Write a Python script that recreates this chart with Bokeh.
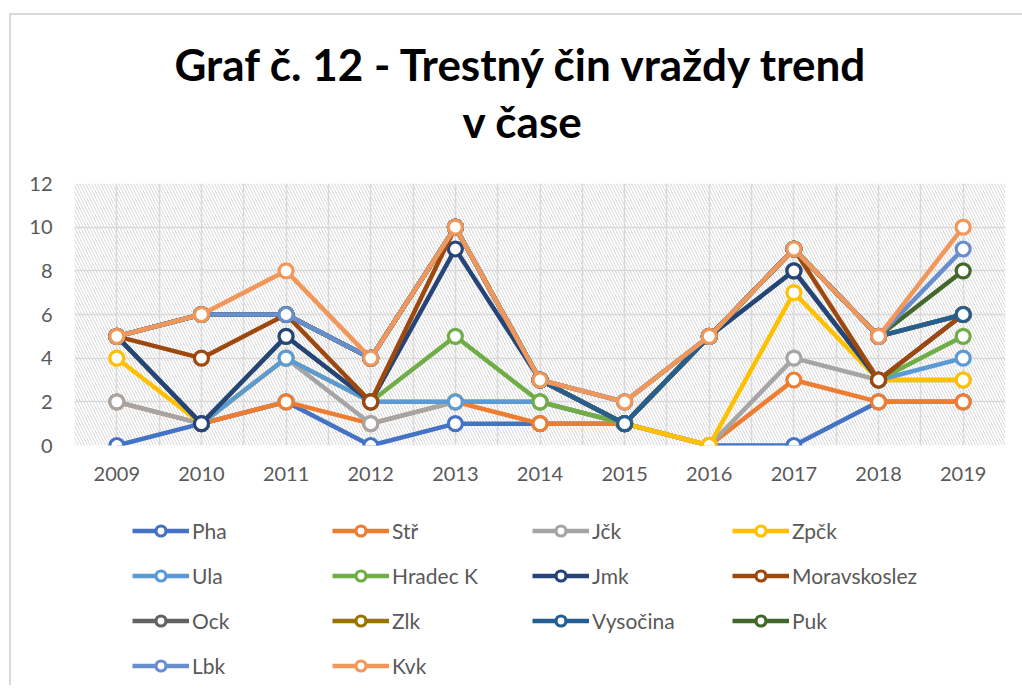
from bokeh.plotting import figure
from bokeh.layouts import column
from bokeh.models import Range1d, FixedTicker, Legend, LegendItem, Title, BoxAnnotation
from bokeh.embed import file_html
from bokeh.resources import INLINE

# ---- data (values as plotted: Excel stacked line chart, cumulative) ----
years = [2009, 2010, 2011, 2012, 2013, 2014, 2015, 2016, 2017, 2018, 2019]
year_labels = ["2009", "2010", "2011", "2012", "2013", "2014", "2015", "2016", "2017", "2018", "2019"]
series_names = ["Pha", "Stř", "Jčk", "Zpčk", "Ula", "Hradec K", "Jmk", "Moravskoslez",
                "Ock", "Zlk", "Vysočina", "Puk", "Lbk", "Kvk"]
pha = [0, 1, 2, 0, 1, 1, 1, 0, 0, 2, 2]
str_ = [2, 1, 2, 1, 2, 1, 1, 0, 3, 2, 2]
jck = [2, 1, 4, 1, 2, 2, 1, 0, 4, 3, 3]
zpck = [4, 1, 4, 2, 2, 2, 1, 0, 7, 3, 3]
ula = [5, 1, 4, 2, 2, 2, 1, 5, 8, 3, 4]
hradec = [5, 1, 5, 2, 5, 2, 1, 5, 8, 3, 5]
jmk = [5, 1, 5, 2, 9, 3, 1, 5, 8, 3, 6]
moravskoslez = [5, 4, 6, 2, 10, 3, 1, 5, 9, 3, 6]
ock = [5, 6, 6, 4, 10, 3, 1, 5, 9, 5, 6]
zlk = [5, 6, 6, 4, 10, 3, 1, 5, 9, 5, 6]
vysocina = [5, 6, 6, 4, 10, 3, 1, 5, 9, 5, 6]
puk = [5, 6, 6, 4, 10, 3, 2, 5, 9, 5, 8]
lbk = [5, 6, 6, 4, 10, 3, 2, 5, 9, 5, 9]
kvk = [5, 6, 8, 4, 10, 3, 2, 5, 9, 5, 10]
y_ticks = [0, 2, 4, 6, 8, 10, 12]

series_values = [pha, str_, jck, zpck, ula, hradec, jmk, moravskoslez,
                 ock, zlk, vysocina, puk, lbk, kvk]
colors = ["#4472C4", "#ED7D31", "#A5A5A5", "#FFC000", "#5B9BD5", "#70AD47",
          "#264478", "#9E480E", "#636363", "#997300", "#255E91", "#43682B",
          "#698ED0", "#F1975A"]

FONT = "Lato"
GREY = "#595959"
W = 1011

p = figure(width=W, height=480,
           x_range=Range1d(years[0] - 0.5, years[-1] + 0.5),
           y_range=Range1d(y_ticks[0], y_ticks[-1]),
           output_backend="svg", toolbar_location=None,
           min_border_left=63, min_border_right=17,
           min_border_top=168, min_border_bottom=50,
           background_fill_color="white", border_fill_color="white",
           outline_line_color=None)
p.title = None

# hatched plot area
p.add_layout(BoxAnnotation(fill_alpha=0, line_color=None, hatch_pattern="\\",
                           hatch_color="#D8D8D8", hatch_scale=6, hatch_weight=1,
                           level="underlay"))

# grid
half_steps = [years[0] - 0.5 + 0.5 * i for i in range(2 * len(years) + 1)]
p.xgrid.ticker = FixedTicker(ticks=half_steps)
p.ygrid.ticker = FixedTicker(ticks=y_ticks)
for g in (p.xgrid, p.ygrid):
    g.grid_line_color = "#D9D9D9"
    g.grid_line_width = 1.5

# axes
p.xaxis.ticker = FixedTicker(ticks=years)
p.xaxis.major_label_overrides = {y: l for y, l in zip(years, year_labels)}
p.yaxis.ticker = FixedTicker(ticks=y_ticks)
for ax in (p.xaxis, p.yaxis):
    ax.axis_line_color = None
    ax.major_tick_line_color = None
    ax.minor_tick_line_color = None
    ax.major_tick_out = 0
    ax.major_label_text_font = FONT
    ax.major_label_text_font_size = "20px"
    ax.major_label_text_color = GREY
p.yaxis.major_label_standoff = 22
p.xaxis.major_label_standoff = 21

# series (drawn in order, later ones on top, as in the stacked Excel chart)
for vals, col in zip(series_values, colors):
    p.line(years, vals, line_color=col, line_width=4.5, line_join="round")
    p.scatter(years, vals, marker="circle", size=14, fill_color="white",
              line_color=col, line_width=3.2)

# titles (two lines) + spacer above the plot area
p.add_layout(Title(text=" ", text_font_size="10px", standoff=21), "above")
p.add_layout(Title(text="v čase", align="left", offset=388, standoff=6,
                   text_font=FONT, text_font_style="bold", text_font_size="44px",
                   text_color="black"), "above")
p.add_layout(Title(text="Graf č. 12 - Trestný čin vraždy trend", align="left", offset=100,
                   standoff=0, text_font=FONT, text_font_style="bold",
                   text_font_size="44px", text_color="black"), "above")

# legend in its own strip below the chart
lf = figure(width=W, height=190, x_range=Range1d(0, 1), y_range=Range1d(0, 1),
            x_axis_type=None, y_axis_type=None, output_backend="svg",
            toolbar_location=None, min_border=0, outline_line_color=None,
            background_fill_color="white", border_fill_color="white")
lf.grid.visible = False
items = []
for name, vals, col in zip(series_names, series_values, colors):
    ln = lf.line(years, vals, line_color=col, line_width=4.5)
    mk = lf.scatter(years, vals, marker="circle", size=14, fill_color="white",
                    line_color=col, line_width=3.2)
    items.append(LegendItem(label=name, renderers=[ln, mk]))

legend = Legend(items=items, location=(58, 7), orientation="horizontal", ncols=4,
                glyph_width=57, glyph_height=25, label_standoff=3, label_width=120,
                spacing=20, padding=0, margin=0, border_line_color=None,
                background_fill_alpha=0, label_text_font=FONT,
                label_text_font_size="21px", label_text_color=GREY)
lf.add_layout(legend, "center")

layout = column(p, lf, spacing=0)
layout.styles = {"margin-left": "9px", "margin-top": "13px",
                 "border-top": "2px solid #D9D9D9", "border-left": "2px solid #D9D9D9"}

open("out.html", "w").write(file_html(layout, INLINE))
